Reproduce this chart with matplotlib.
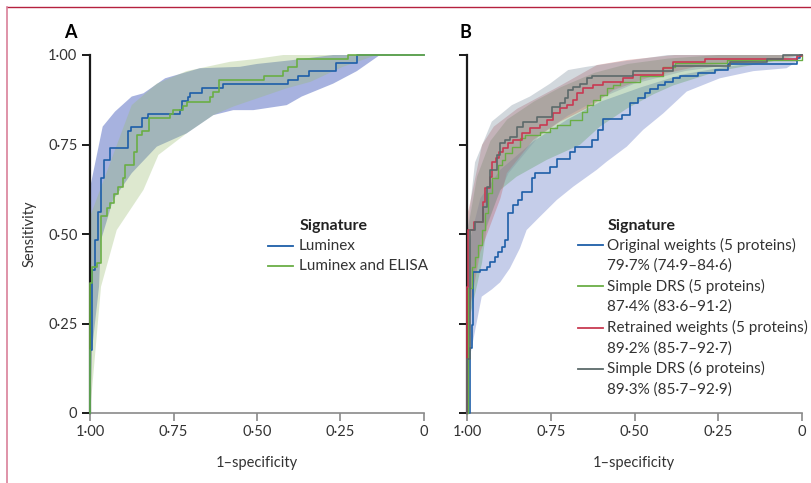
import matplotlib
matplotlib.use("Agg")
import matplotlib.pyplot as plt
import numpy as np
from matplotlib.lines import Line2D
from matplotlib.ticker import FuncFormatter

plt.rcParams['font.family'] = ['Lato', 'DejaVu Sans']

# ---- panel A: ROC curves (x = specificity, drawn on a reversed axis) ----
a_lum_spec = [1.0, 1.0, 0.995, 0.985, 0.977, 0.967, 0.957, 0.940, 0.885, 0.877, 0.844, 0.825,
              0.731, 0.726, 0.707, 0.701, 0.665, 0.603, 0.406, 0.378, 0.343, 0.263, 0.201, 0.0]
a_lum_sens = [0.0, 0.176, 0.40, 0.483, 0.562, 0.657, 0.707, 0.741, 0.788, 0.80, 0.825, 0.835,
              0.846, 0.871, 0.884, 0.893, 0.907, 0.918, 0.930, 0.941, 0.955, 0.979, 1.0, 1.0]
a_eli_spec = [1.0, 1.0, 0.995, 0.980, 0.967, 0.950, 0.940, 0.927, 0.915, 0.902, 0.895, 0.868, 0.860,
              0.845, 0.823, 0.760, 0.752, 0.722, 0.711, 0.641, 0.632, 0.613, 0.478, 0.421, 0.406,
              0.381, 0.228, 0.0]
a_eli_sens = [0.0, 0.364, 0.409, 0.42, 0.550, 0.572, 0.586, 0.611, 0.632, 0.657, 0.694, 0.730, 0.777,
              0.788, 0.823, 0.835, 0.846, 0.858, 0.870, 0.884, 0.896, 0.930, 0.941, 0.955, 0.966,
              0.989, 1.0, 1.0]

# confidence bands, panel A
a_lum_up_x = [1.0, 0.962, 0.925, 0.875, 0.840, 0.775, 0.671, 0.551, 0.500, 0.401, 0.272, 0.0]
a_lum_up_y = [0.628, 0.80, 0.842, 0.884, 0.893, 0.935, 0.963, 0.967, 0.975, 0.985, 1.0, 1.0]
a_lum_lo_x = [1.0, 0.994, 0.973, 0.967, 0.931, 0.875, 0.800, 0.711, 0.631, 0.571, 0.511, 0.411,
              0.366, 0.272, 0.201, 0.132, 0.0]
a_lum_lo_y = [0.0, 0.176, 0.353, 0.483, 0.595, 0.670, 0.744, 0.781, 0.832, 0.846, 0.846, 0.860,
              0.884, 0.920, 0.955, 1.0, 1.0]
a_eli_up_x = [1.0, 0.875, 0.800, 0.711, 0.581, 0.511, 0.421, 0.0]
a_eli_up_y = [0.548, 0.860, 0.920, 0.955, 0.981, 0.988, 1.0, 1.0]
a_eli_lo_x = [1.0, 0.967, 0.920, 0.840, 0.795, 0.711, 0.631, 0.571, 0.411, 0.340, 0.243, 0.142, 0.0]
a_eli_lo_y = [0.0, 0.353, 0.511, 0.623, 0.721, 0.781, 0.832, 0.856, 0.907, 0.925, 0.967, 1.0, 1.0]

# ---- panel B ----
b_orig_spec = [1.0, 0.991, 0.985, 0.981, 0.961, 0.941, 0.931, 0.916, 0.907, 0.896, 0.887, 0.877,
               0.862, 0.847, 0.837, 0.807, 0.797, 0.752, 0.732, 0.693, 0.678, 0.628, 0.608, 0.593,
               0.538, 0.513, 0.489, 0.469, 0.454, 0.429, 0.409, 0.384, 0.364, 0.310, 0.260, 0.220,
               0.016, 0.006, 0.0]
b_orig_sens = [0.0, 0.181, 0.246, 0.395, 0.40, 0.409, 0.423, 0.437, 0.451, 0.465, 0.483, 0.558,
               0.581, 0.595, 0.618, 0.656, 0.670, 0.688, 0.709, 0.730, 0.744, 0.763, 0.791, 0.820,
               0.832, 0.865, 0.879, 0.893, 0.904, 0.916, 0.925, 0.935, 0.941, 0.950, 0.958, 0.975,
               0.991, 1.0, 1.0]
b_drs5_spec = [1.0, 0.996, 0.986, 0.976, 0.966, 0.956, 0.946, 0.936, 0.926, 0.907, 0.896, 0.887,
               0.867, 0.842, 0.827, 0.782, 0.752, 0.732, 0.693, 0.658, 0.643, 0.623, 0.603, 0.583,
               0.563, 0.543, 0.484, 0.414, 0.379, 0.225, 0.001, 0.0]
b_drs5_sens = [0.0, 0.348, 0.409, 0.437, 0.469, 0.511, 0.558, 0.614, 0.656, 0.693, 0.707, 0.725,
               0.744, 0.767, 0.777, 0.786, 0.795, 0.804, 0.818, 0.842, 0.860, 0.874, 0.888, 0.907,
               0.916, 0.925, 0.940, 0.967, 0.977, 0.986, 1.0, 1.0]
b_ret_spec = [1.0, 0.999, 0.996, 0.979, 0.953, 0.946, 0.931, 0.926, 0.913, 0.904, 0.892, 0.877,
              0.862, 0.837, 0.812, 0.782, 0.762, 0.742, 0.722, 0.702, 0.683, 0.673, 0.653, 0.623,
              0.593, 0.533, 0.503, 0.414, 0.384, 0.290, 0.016, 0.001, 0.0]
b_ret_sens = [0.0, 0.353, 0.511, 0.534, 0.590, 0.628, 0.66, 0.702, 0.711, 0.730, 0.739, 0.753,
              0.763, 0.781, 0.795, 0.804, 0.818, 0.837, 0.851, 0.860, 0.874, 0.893, 0.907, 0.916,
              0.925, 0.935, 0.944, 0.963, 0.981, 0.989, 0.996, 1.0, 1.0]
b_drs6_spec = [1.0, 0.999, 0.991, 0.976, 0.951, 0.941, 0.931, 0.911, 0.901, 0.887, 0.872, 0.852,
               0.832, 0.792, 0.747, 0.722, 0.707, 0.698, 0.683, 0.663, 0.643, 0.628, 0.503, 0.384,
               0.215, 0.105, 0.057, 0.0]
b_drs6_sens = [0.0, 0.15, 0.511, 0.534, 0.576, 0.632, 0.679, 0.721, 0.753, 0.763, 0.772, 0.800,
               0.814, 0.828, 0.856, 0.865, 0.879, 0.902, 0.910, 0.920, 0.935, 0.941, 0.955, 0.970,
               0.980, 0.990, 1.0, 1.0]

# confidence bands, panel B
b_orig_up_x = [1.0, 0.96, 0.90, 0.80, 0.70, 0.60, 0.48, 0.36, 0.24, 0.12, 0.0]
b_orig_up_y = [0.45, 0.60, 0.68, 0.76, 0.82, 0.87, 0.91, 0.945, 0.965, 0.98, 1.0]
b_orig_lo_x = [1.0, 0.991, 0.956, 0.926, 0.901, 0.872, 0.842, 0.822, 0.787, 0.732, 0.683, 0.613,
               0.583, 0.523, 0.474, 0.414, 0.344, 0.245, 0.145, 0.046, 0.016, 0.0]
b_orig_lo_y = [0.0, 0.157, 0.325, 0.345, 0.365, 0.404, 0.460, 0.511, 0.544, 0.595, 0.632, 0.679,
               0.702, 0.744, 0.791, 0.837, 0.898, 0.935, 0.955, 0.963, 0.981, 1.0]
b_drs5_up_x = [1.0, 0.97, 0.93, 0.88, 0.80, 0.72, 0.62, 0.52, 0.40, 0.25, 0.0]
b_drs5_up_y = [0.50, 0.66, 0.76, 0.82, 0.87, 0.91, 0.95, 0.975, 0.99, 1.0, 1.0]
b_drs5_lo_x = [1.0, 0.991, 0.955, 0.941, 0.901, 0.852, 0.762, 0.663, 0.603, 0.523, 0.444, 0.384,
               0.25, 0.10, 0.0]
b_drs5_lo_y = [0.0, 0.269, 0.42, 0.520, 0.623, 0.660, 0.707, 0.749, 0.80, 0.85, 0.89, 0.915,
               0.955, 0.98, 1.0]
b_ret_up_x = [1.0, 0.991, 0.955, 0.92, 0.85, 0.72, 0.612, 0.523, 0.38, 0.0]
b_ret_up_y = [0.55, 0.586, 0.749, 0.80, 0.85, 0.915, 0.972, 0.986, 1.0, 1.0]
b_ret_lo_x = [1.0, 0.99, 0.96, 0.90, 0.881, 0.802, 0.722, 0.632, 0.563, 0.45, 0.30, 0.10, 0.0]
b_ret_lo_y = [0.0, 0.30, 0.45, 0.60, 0.670, 0.763, 0.814, 0.856, 0.902, 0.94, 0.97, 0.985, 1.0]
b_drs6_up_x = [1.0, 0.976, 0.926, 0.866, 0.812, 0.752, 0.698, 0.643, 0.55, 0.40, 0.0]
b_drs6_up_y = [0.50, 0.70, 0.814, 0.860, 0.884, 0.920, 0.958, 0.967, 0.98, 1.0, 1.0]
b_drs6_lo_x = [1.0, 0.99, 0.96, 0.91, 0.876, 0.782, 0.70, 0.60, 0.50, 0.35, 0.20, 0.0]
b_drs6_lo_y = [0.0, 0.33, 0.48, 0.60, 0.670, 0.777, 0.83, 0.88, 0.92, 0.955, 0.975, 1.0]

a_labels = ["Luminex", "Luminex and ELISA"]
b_labels = [("Original weights (5 proteins)", "79·7% (74·9–84·6)"),
            ("Simple DRS (5 proteins)", "87·4% (83·6–91·2)"),
            ("Retrained weights (5 proteins)", "89·2% (85·7–92·7)"),
            ("Simple DRS (6 proteins)", "89·3% (85·7–92·9)")]

BLUE = '#1d5ea8'
GREEN = '#6aae45'
RED = '#c83a52'
GREY = '#5c6a6a'
TXT = '#333333'

W, H = 812, 483
fig = plt.figure(figsize=(W / 100, H / 100), dpi=100)


def fx(px):
    return px / W


def fy(py):
    return 1 - py / H


axA = fig.add_axes([fx(90), fy(413), fx(424) - fx(90), fy(55) - fy(413)])
axB = fig.add_axes([fx(467), fy(413), fx(802) - fx(467), fy(55) - fy(413)])


def band(ax, ux, uy, lx, ly, color, alpha):
    xs = list(ux) + list(lx)[::-1]
    ys = list(uy) + list(ly)[::-1]
    ax.fill(xs, ys, color=color, alpha=alpha, lw=0, zorder=1)


def fmt(v, pos):
    if v == 0:
        return "0"
    return f"{v:.2f}".replace(".", "·")


for ax in (axA, axB):
    ax.set_xlim(1, 0)
    ax.set_ylim(0, 1)
    ax.set_xticks([1, 0.75, 0.5, 0.25, 0])
    ax.set_yticks([0, 0.25, 0.5, 0.75, 1])
    ax.xaxis.set_major_formatter(FuncFormatter(fmt))
    ax.yaxis.set_major_formatter(FuncFormatter(fmt))
    for s in ('top', 'right'):
        ax.spines[s].set_visible(False)
    ax.spines['left'].set_linewidth(1.6)
    ax.spines['left'].set_color('#1a1a1a')
    ax.spines['bottom'].set_linewidth(1.2)
    ax.spines['bottom'].set_color('#8a8a8a')
    ax.tick_params(axis='y', length=6, width=1.4, color='#1a1a1a', labelsize=10.5,
                   labelcolor=TXT, pad=3)
    ax.tick_params(axis='x', length=6, width=1.2, color='#8a8a8a', labelsize=10.5,
                   labelcolor=TXT, pad=3)
axB.tick_params(axis='y', labelleft=False)

# panel A
band(axA, a_lum_up_x, a_lum_up_y, a_lum_lo_x, a_lum_lo_y, '#5067c0', 0.5)
band(axA, a_eli_up_x, a_eli_up_y, a_eli_lo_x, a_eli_lo_y, '#98bc70', 0.33)
axA.plot(a_lum_spec, a_lum_sens, drawstyle='steps-post', color=BLUE, lw=1.2, zorder=3,
         clip_on=False)
axA.plot(a_eli_spec, a_eli_sens, drawstyle='steps-post', color=GREEN, lw=1.2, zorder=3,
         clip_on=False)

# panel B
band(axB, b_orig_up_x, b_orig_up_y, b_orig_lo_x, b_orig_lo_y, '#8090d0', 0.45)
band(axB, b_drs5_up_x, b_drs5_up_y, b_drs5_lo_x, b_drs5_lo_y, '#60a060', 0.35)
band(axB, b_ret_up_x, b_ret_up_y, b_ret_lo_x, b_ret_lo_y, '#c06060', 0.35)
band(axB, b_drs6_up_x, b_drs6_up_y, b_drs6_lo_x, b_drs6_lo_y, '#8090a0', 0.35)
axB.plot(b_orig_spec, b_orig_sens, drawstyle='steps-post', color=BLUE, lw=1.2, zorder=3,
         clip_on=False)
axB.plot(b_drs5_spec, b_drs5_sens, drawstyle='steps-post', color=GREEN, lw=1.0, zorder=3,
         clip_on=False)
axB.plot(b_ret_spec, b_ret_sens, drawstyle='steps-post', color=RED, lw=1.2, zorder=3,
         clip_on=False)
axB.plot(b_drs6_spec, b_drs6_sens, drawstyle='steps-post', color=GREY, lw=1.2, zorder=3,
         clip_on=False)

# panel letters and axis titles
fig.text(fx(70), fy(32), "A", fontsize=13, fontweight='bold', ha='center', va='center')
fig.text(fx(465), fy(32), "B", fontsize=13, fontweight='bold', ha='center', va='center')
fig.text(fx(30), fy(234), "Sensitivity", fontsize=10.5, rotation=90, ha='center', va='center',
         color=TXT)
fig.text(fx(257), fy(463), "1–specificity", fontsize=10.5, ha='center', va='center', color=TXT)
fig.text(fx(634), fy(463), "1–specificity", fontsize=10.5, ha='center', va='center', color=TXT)

# legends, drawn by hand
fig.text(fx(300), fy(226), "Signature", fontsize=11.5, fontweight='bold', ha='left', va='center',
         color='#222222')
for i, (lab, col) in enumerate(zip(a_labels, [BLUE, GREEN])):
    yy = 246 + i * 19.5
    fig.add_artist(Line2D([fx(268), fx(293)], [fy(yy), fy(yy)], color=col, lw=1.3))
    fig.text(fx(299), fy(yy), lab, fontsize=11, ha='left', va='center', color=TXT)

fig.text(fx(608), fy(226), "Signature", fontsize=11.5, fontweight='bold', ha='left', va='center',
         color='#222222')
for i, ((l1, l2), col) in enumerate(zip(b_labels, [BLUE, GREEN, RED, GREY])):
    yy = 245 + i * 41.3
    fig.add_artist(Line2D([fx(578), fx(603)], [fy(yy), fy(yy)], color=col, lw=1.3))
    fig.text(fx(607), fy(yy), l1, fontsize=11, ha='left', va='center', color=TXT)
    fig.text(fx(607), fy(yy + 20.6), l2, fontsize=11, ha='left', va='center', color=TXT)

# frame
fig.add_artist(Line2D([fx(7), fx(812)], [fy(7), fy(7)], color='#b5213f', lw=1.0))
fig.add_artist(Line2D([fx(7), fx(7)], [fy(7), fy(483)], color='#d9809a', lw=1.2))

fig.savefig("out.png", dpi=100)
